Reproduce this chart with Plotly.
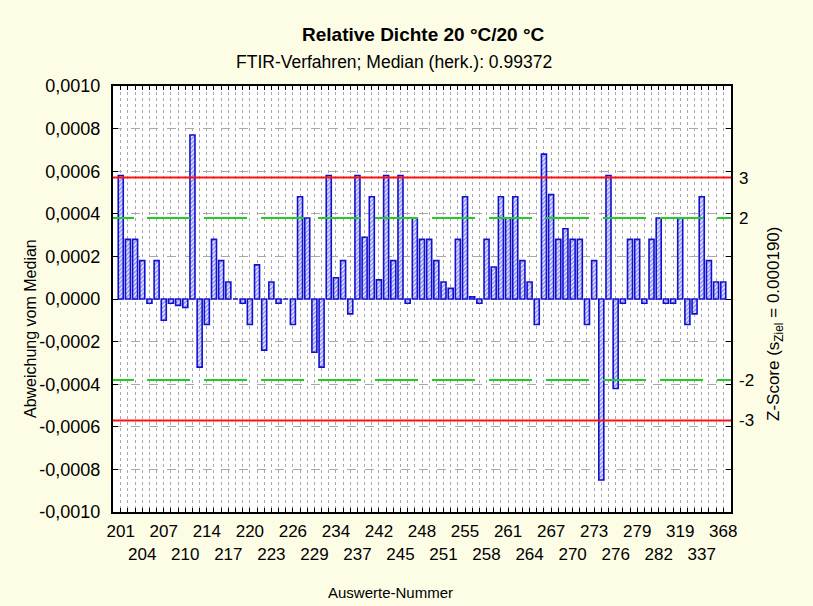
import plotly.graph_objects as go

# ---- data ----
tick_labels = ["201", "204", "207", "210", "214", "217", "220", "223", "226", "229",
               "234", "237", "242", "245", "248", "251", "255", "258", "261", "264",
               "267", "270", "273", "276", "279", "282", "319", "337", "368"]
deviation = [5.8, 2.8, 2.8, 1.8, -0.2, 1.8, -1.0, -0.2, -0.3, -0.4,
             7.7, -3.2, -1.2, 2.8, 1.8, 0.8, 0.0, -0.2, -1.2, 1.6,
             -2.4, 0.8, -0.2, 0.0, -1.2, 4.8, 3.8, -2.5, -3.2, 5.8,
             1.0, 1.8, -0.7, 5.8, 2.9, 4.8, 0.9, 5.8, 1.8, 5.8,
             -0.2, 3.8, 2.8, 2.8, 1.8, 0.8, 0.5, 2.8, 4.8, 0.1,
             -0.2, 2.8, 1.5, 4.8, 3.8, 4.8, 1.8, 0.8, -1.2, 6.8,
             4.9, 2.8, 3.3, 2.8, 2.8, -1.2, 1.8, -8.5, 5.8, -4.2,
             -0.2, 2.8, 2.8, -0.2, 2.8, 3.8, -0.2, -0.2, 3.8, -1.2,
             -0.7, 4.8, 1.8, 0.8, 0.8]
deviation = [v * 1e-4 for v in deviation]
s_ziel = 0.00019
y_ticks = [-0.0010, -0.0008, -0.0006, -0.0004, -0.0002, 0.0, 0.0002, 0.0004, 0.0006, 0.0008, 0.0010]
y_ticktext = ["-0,0010", "-0,0008", "-0,0006", "-0,0004", "-0,0002", "0,0000",
              "0,0002", "0,0004", "0,0006", "0,0008", "0,0010"]
z_ticks = [-3, -2, 2, 3]
z_ticktext = ["-3", "-2", "2", "3"]

n = len(deviation)
xs = list(range(n))
ticktext = []
for i in range(n):
    if i % 3 == 0:
        lab = tick_labels[i // 3]
        ticktext.append(lab if (i // 3) % 2 == 0 else "<br>" + lab)
    else:
        ticktext.append("")

FONT = "Arial, Liberation Sans, sans-serif"

fig = go.Figure()
fig.add_trace(go.Bar(
    x=xs, y=deviation, width=0.7,
    marker=dict(color="white",
                line=dict(color="#1010d0", width=1.6),
                pattern=dict(shape="/", fgcolor="#3a3ae0", bgcolor="#f4f4ff",
                             size=3, solidity=0.6)),
    showlegend=False, hoverinfo="skip"))
# invisible trace to activate right z-score axis
fig.add_trace(go.Scatter(x=[0], y=[0], yaxis="y2", mode="markers",
                         marker=dict(opacity=0), showlegend=False, hoverinfo="skip"))

# limit lines
for k in (3, -3):
    fig.add_shape(type="line", xref="x domain", x0=0, x1=1, yref="y",
                  y0=k * s_ziel, y1=k * s_ziel, line=dict(color="#ff1010", width=2))
green_dash = "21px,13px," + ",".join(["43px,14px"] * 11)
for k in (2, -2):
    fig.add_shape(type="line", xref="x domain", x0=0, x1=1, yref="y",
                  y0=k * s_ziel, y1=k * s_ziel,
                  line=dict(color="#22cc22", width=2, dash=green_dash))

fig.update_layout(
    width=813, height=606,
    margin=dict(l=113, r=82, t=86, b=94),
    paper_bgcolor="#fdfde6", plot_bgcolor="white",
    font=dict(family=FONT, size=16, color="black"),
    bargap=0.3,
    xaxis=dict(range=[-1.08, n - 1 + 1.08], tickmode="array", tickvals=xs, ticktext=ticktext,
               tickangle=0, ticks="inside", ticklen=4, tickcolor="black", tickwidth=1.2,
               showline=True, linecolor="black", linewidth=2, mirror="ticks",
               showgrid=True, gridcolor="#a8a8a8", griddash="dot", gridwidth=1,
               zeroline=False, tickfont=dict(size=17), ticklabelstandoff=3),
    yaxis=dict(range=[-0.001, 0.001], tickmode="array", tickvals=y_ticks, ticktext=y_ticktext,
               ticks="inside", ticklen=5, tickcolor="black", tickwidth=1.2,
               showline=True, linecolor="black", linewidth=2, mirror="ticks",
               showgrid=True, gridcolor="#a8a8a8", griddash="dash", gridwidth=1,
               zeroline=False, tickfont=dict(size=18), ticklabelstandoff=7),
    yaxis2=dict(overlaying="y", side="right", range=[-0.001 / s_ziel, 0.001 / s_ziel],
                tickmode="array", tickvals=z_ticks, ticktext=z_ticktext,
                ticks="", showline=False, showgrid=False, zeroline=False,
                tickfont=dict(size=17), ticklabelstandoff=7),
    annotations=[
        dict(text="<b>Relative Dichte 20 °C/20 °C</b>", xref="paper", yref="paper",
             x=0.502, y=1 + (86 - 35) / 426, showarrow=False, font=dict(size=19),
             xanchor="center", yanchor="middle"),
        dict(text="FTIR-Verfahren; Median (herk.): 0.99372", xref="paper", yref="paper",
             x=(394 - 113) / 618, y=1 + (86 - 62) / 426, showarrow=False, font=dict(size=17.5),
             xanchor="center", yanchor="middle"),
        dict(text="Abweichung vom Median", xref="paper", yref="paper",
             x=(30 - 113) / 618, y=(512 - 329) / 426, textangle=-90, showarrow=False,
             font=dict(size=16), xanchor="center", yanchor="middle"),
        dict(text="Z-Score (s<sub>Ziel</sub> = 0.000190)", xref="paper", yref="paper",
             x=(775 - 113) / 618, y=(512 - 324) / 426, textangle=-90, showarrow=False,
             font=dict(size=17), xanchor="center", yanchor="middle"),
        dict(text="Auswerte-Nummer", xref="paper", yref="paper",
             x=(390 - 113) / 618, y=(512 - 592) / 426, showarrow=False,
             font=dict(size=15), xanchor="center", yanchor="middle"),
    ],
)

fig.write_html("out.html", config={"displayModeBar": False},
               post_script="document.body.style.margin='0px';document.body.style.overflow='hidden';")
